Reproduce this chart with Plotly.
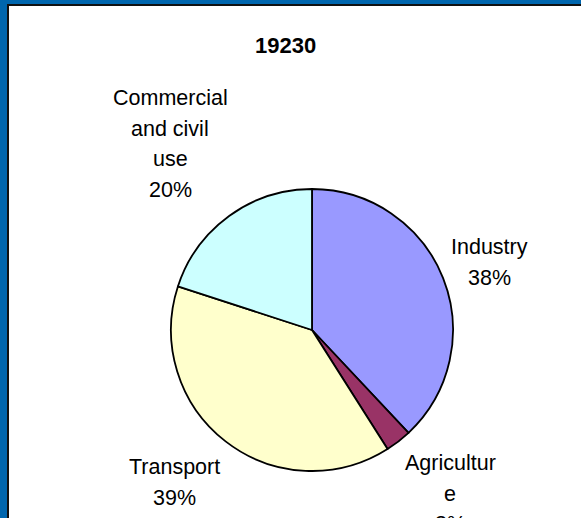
import plotly.graph_objects as go

W, H = 581, 518

# Energy consumption shares by sector
sectors = ["Industry", "Agriculture", "Transport", "Commercial and civil use"]
shares = [38, 3, 39, 20]
colors = ["#9999FF", "#993366", "#FFFFCC", "#CCFFFF"]

# Wrapped label lines (without the percentage) and their placement in pixels
label_lines = [["Industry"], ["Agricultur", "e"], ["Transport"], ["Commercial", "and civil", "use"]]
label_pos = [(489, 247), (450, 463), (174, 467), (170, 98)]  # centre x, first line y
line_gap = 30.5

title_text = "19230"

FONT = "Liberation Sans, Arial, sans-serif"


def px_x(x):
    return x / W


def px_y(y):
    return 1 - y / H


cx, cy, r = 312, 330, 141

fig = go.Figure(
    go.Pie(
        labels=sectors,
        values=shares,
        sort=False,
        direction="clockwise",
        rotation=0,
        marker=dict(colors=colors, line=dict(color="black", width=1.8)),
        textinfo="none",
        hoverinfo="label+percent",
        showlegend=False,
        domain=dict(x=[px_x(cx - r), px_x(cx + r)], y=[px_y(cy + r), px_y(cy - r)]),
    )
)

annotations = []
for lines, share, (lx, ly) in zip(label_lines, shares, label_pos):
    for i, txt in enumerate(lines + [f"{share}%"]):
        annotations.append(
            dict(
                text=txt,
                x=px_x(lx),
                y=px_y(ly + i * line_gap),
                xref="paper",
                yref="paper",
                xanchor="center",
                yanchor="middle",
                showarrow=False,
                font=dict(family=FONT, size=21.5, color="black"),
            )
        )

annotations.append(
    dict(
        text=f"<b>{title_text}</b>",
        x=px_x(285),
        y=px_y(45),
        xref="paper",
        yref="paper",
        xanchor="center",
        yanchor="middle",
        showarrow=False,
        font=dict(family=FONT, size=22, color="black"),
    )
)

# Window frame: blue edge on the left and top with a dark inner rule
frame_blue = "#0066AE"
shapes = [
    dict(type="rect", xref="paper", yref="paper", x0=0, x1=px_x(8), y0=0, y1=1,
         fillcolor=frame_blue, line=dict(width=0), layer="above"),
    dict(type="rect", xref="paper", yref="paper", x0=0, x1=1, y0=px_y(5), y1=1,
         fillcolor=frame_blue, line=dict(width=0), layer="above"),
    dict(type="rect", xref="paper", yref="paper", x0=px_x(7), x1=px_x(9), y0=0, y1=px_y(4),
         fillcolor="#111111", line=dict(width=0), layer="above"),
    dict(type="rect", xref="paper", yref="paper", x0=px_x(7), x1=1, y0=px_y(6), y1=px_y(4),
         fillcolor="#111111", line=dict(width=0), layer="above"),
]

fig.update_layout(
    width=W,
    height=H,
    margin=dict(l=0, r=0, t=0, b=0),
    paper_bgcolor="white",
    plot_bgcolor="white",
    annotations=annotations,
    shapes=shapes,
)

fig.write_html("out.html")
